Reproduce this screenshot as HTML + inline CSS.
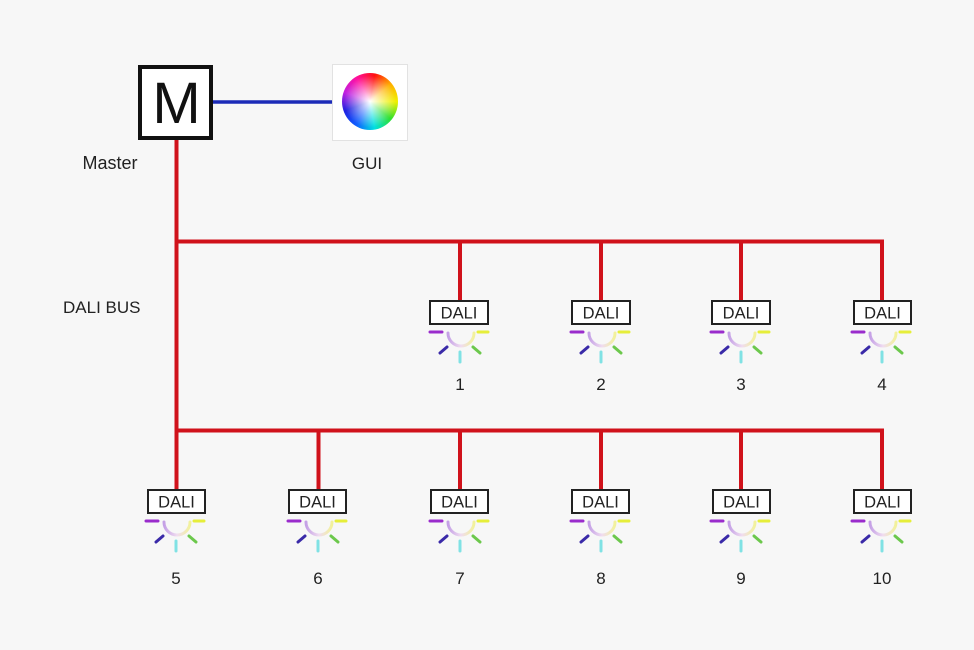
<!DOCTYPE html>
<html>
<head>
<meta charset="utf-8">
<style>
html,body{margin:0;padding:0;}
body{width:974px;height:650px;background:#f7f7f7;position:relative;overflow:hidden;font-family:"Liberation Sans",sans-serif;}
svg{position:absolute;left:0;top:0;}
.wheel{position:absolute;left:342px;top:73px;width:56px;height:57px;border-radius:50%;
background:radial-gradient(circle at 50% 50%, rgba(255,255,255,1) 0%, rgba(255,255,255,0.6) 25%, rgba(255,255,255,0) 65%),
conic-gradient(from 10deg, #ff1010, #ffb000, #f0f000, #30e030, #00e0e0, #1060ff, #2020e0, #c020e0, #ff10a0, #ff1010);}
</style>
</head>
<body>
<svg width="974" height="650" viewBox="0 0 974 650" xmlns="http://www.w3.org/2000/svg">
  <defs>
    <linearGradient id="arcg" x1="0" y1="0" x2="1" y2="0">
      <stop offset="0" stop-color="#c4a0e6"/>
      <stop offset="0.5" stop-color="#f0dcf0"/>
      <stop offset="1" stop-color="#f2f29a"/>
    </linearGradient>
    <g id="lamp">
      <line x1="-30" y1="0" x2="-18" y2="0" stroke="#9a2ccc" stroke-width="3" stroke-linecap="round"/>
      <line x1="18" y1="0" x2="28" y2="0" stroke="#e6ee3a" stroke-width="3" stroke-linecap="round"/>
      <path d="M -12 1 A 13 13 0 0 0 14 1" fill="none" stroke="url(#arcg)" stroke-width="3" stroke-linecap="round"/>
      <line x1="-20" y1="21" x2="-13" y2="15" stroke="#3a2aa8" stroke-width="3" stroke-linecap="round"/>
      <line x1="0" y1="20" x2="0" y2="30" stroke="#80e2e4" stroke-width="3" stroke-linecap="round"/>
      <line x1="13" y1="15" x2="20" y2="21" stroke="#6cc84c" stroke-width="3" stroke-linecap="round"/>
    </g>
  </defs>

  <!-- Blue link -->
  <line x1="213" y1="102" x2="332" y2="102" stroke="#1c2bb8" stroke-width="3.5"/>

  <!-- Red bus lines -->
  <g stroke="#d0121b" stroke-width="4" fill="none">
    <line x1="176.5" y1="139" x2="176.5" y2="490"/>
    <polyline points="176.5,241.5 882,241.5 882,300"/>
    <line x1="460" y1="241.5" x2="460" y2="300"/>
    <line x1="601" y1="241.5" x2="601" y2="300"/>
    <line x1="741" y1="241.5" x2="741" y2="300"/>
    <polyline points="176.5,430.5 882,430.5 882,489"/>
    <line x1="318.5" y1="430.5" x2="318.5" y2="489"/>
    <line x1="460" y1="430.5" x2="460" y2="489"/>
    <line x1="601" y1="430.5" x2="601" y2="489"/>
    <line x1="741" y1="430.5" x2="741" y2="489"/>
  </g>

  <!-- Master box -->
  <rect x="140" y="67" width="71" height="71" fill="#ffffff" stroke="#111" stroke-width="4"/>
  <text x="176.5" y="123" font-size="58" text-anchor="middle" fill="#111" font-family="Liberation Sans, sans-serif">M</text>
  <text x="110" y="169" font-size="18" text-anchor="middle" fill="#222" font-family="Liberation Sans, sans-serif">Master</text>

  <!-- GUI box -->
  <rect x="332.5" y="64.5" width="75" height="76" fill="#ffffff" stroke="#e2e2e2" stroke-width="1"/>
  <text x="367" y="169" font-size="17" text-anchor="middle" fill="#222" font-family="Liberation Sans, sans-serif">GUI</text>

  <text x="63" y="313" font-size="17" fill="#222" font-family="Liberation Sans, sans-serif">DALI BUS</text>

  <!-- Top row -->
  <g font-family="Liberation Sans, sans-serif" fill="#222">
    <g>
      <rect x="430" y="301" width="58" height="23" fill="#fff" stroke="#222" stroke-width="2"/>
      <text x="459" y="318.5" font-size="16.5" text-anchor="middle">DALI</text>
      <use href="#lamp" x="460" y="332"/>
      <text x="460" y="390" font-size="17" text-anchor="middle">1</text>
    </g>
    <g>
      <rect x="572" y="301" width="58" height="23" fill="#fff" stroke="#222" stroke-width="2"/>
      <text x="601" y="318.5" font-size="16.5" text-anchor="middle">DALI</text>
      <use href="#lamp" x="601" y="332"/>
      <text x="601" y="390" font-size="17" text-anchor="middle">2</text>
    </g>
    <g>
      <rect x="712" y="301" width="58" height="23" fill="#fff" stroke="#222" stroke-width="2"/>
      <text x="741" y="318.5" font-size="16.5" text-anchor="middle">DALI</text>
      <use href="#lamp" x="741" y="332"/>
      <text x="741" y="390" font-size="17" text-anchor="middle">3</text>
    </g>
    <g>
      <rect x="854" y="301" width="57" height="23" fill="#fff" stroke="#222" stroke-width="2"/>
      <text x="882.5" y="318.5" font-size="16.5" text-anchor="middle">DALI</text>
      <use href="#lamp" x="882" y="332"/>
      <text x="882" y="390" font-size="17" text-anchor="middle">4</text>
    </g>
  </g>

  <!-- Bottom row -->
  <g font-family="Liberation Sans, sans-serif" fill="#222">
    <g>
      <rect x="148" y="490" width="57" height="23" fill="#fff" stroke="#222" stroke-width="2"/>
      <text x="176.5" y="507.5" font-size="16.5" text-anchor="middle">DALI</text>
      <use href="#lamp" x="176" y="521"/>
      <text x="176" y="584" font-size="17" text-anchor="middle">5</text>
    </g>
    <g>
      <rect x="289" y="490" width="57" height="23" fill="#fff" stroke="#222" stroke-width="2"/>
      <text x="317.5" y="507.5" font-size="16.5" text-anchor="middle">DALI</text>
      <use href="#lamp" x="318" y="521"/>
      <text x="318" y="584" font-size="17" text-anchor="middle">6</text>
    </g>
    <g>
      <rect x="431" y="490" width="57" height="23" fill="#fff" stroke="#222" stroke-width="2"/>
      <text x="459.5" y="507.5" font-size="16.5" text-anchor="middle">DALI</text>
      <use href="#lamp" x="460" y="521"/>
      <text x="460" y="584" font-size="17" text-anchor="middle">7</text>
    </g>
    <g>
      <rect x="572" y="490" width="57" height="23" fill="#fff" stroke="#222" stroke-width="2"/>
      <text x="600.5" y="507.5" font-size="16.5" text-anchor="middle">DALI</text>
      <use href="#lamp" x="601" y="521"/>
      <text x="601" y="584" font-size="17" text-anchor="middle">8</text>
    </g>
    <g>
      <rect x="713" y="490" width="57" height="23" fill="#fff" stroke="#222" stroke-width="2"/>
      <text x="741.5" y="507.5" font-size="16.5" text-anchor="middle">DALI</text>
      <use href="#lamp" x="741" y="521"/>
      <text x="741" y="584" font-size="17" text-anchor="middle">9</text>
    </g>
    <g>
      <rect x="854" y="490" width="57" height="23" fill="#fff" stroke="#222" stroke-width="2"/>
      <text x="882.5" y="507.5" font-size="16.5" text-anchor="middle">DALI</text>
      <use href="#lamp" x="882" y="521"/>
      <text x="882" y="584" font-size="17" text-anchor="middle">10</text>
    </g>
  </g>
</svg>
<div class="wheel"></div>
</body>
</html>
